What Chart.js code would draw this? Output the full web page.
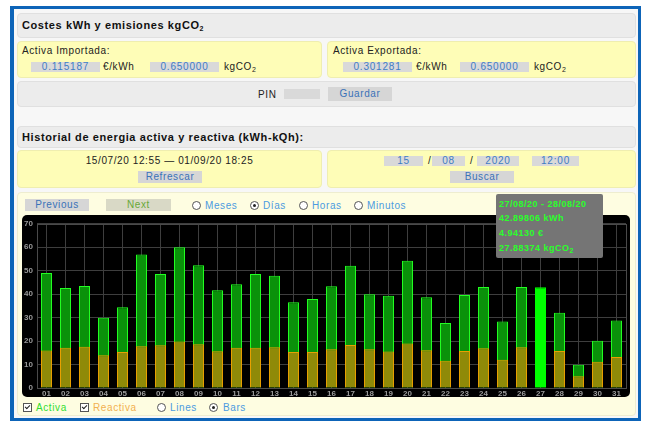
<!DOCTYPE html>
<html>
<head>
<meta charset="utf-8">
<script src="https://cdn.jsdelivr.net/npm/chart.js@4.4.0/dist/chart.umd.min.js"></script>
<style>
  body { margin: 0; width: 645px; height: 423px; background: #fff; font-family: 'Liberation Sans', Arial, sans-serif; position: relative; overflow: hidden; }
  .abs { position: absolute; }
  #frame { left: 10px; top: 6px; width: 631px; height: 415px; box-sizing: border-box; border: 3px solid #0d64b8; border-left-width: 4px; background: #f7f7f7; }
  .gray { background: #ececec; border: 1px solid #e0e0e0; border-radius: 4px; box-sizing: border-box; }
  .yel { background: #fefdb7; border: 1px solid #efeeb0; border-radius: 4px; box-sizing: border-box; }
  .title { font-weight: bold; font-size: 11px; letter-spacing: 0.6px; color: #111; line-height: 12px; }
  .txt { font-size: 10px; letter-spacing: 0.6px; color: #222; line-height: 11px; white-space: nowrap; }
  .box { background: #d9d9d9; color: #3f7cc4; font-size: 10px; letter-spacing: 0.8px; text-align: center; line-height: 10px; white-space: nowrap; }
  .btn { background: #d6d6d6; color: #3a72b8; font-size: 10px; letter-spacing: 0.6px; text-align: center; white-space: nowrap; }
  .blue { color: #4c9be0; font-size: 10px; letter-spacing: 0.6px; line-height: 11px; white-space: nowrap; }
  .radio { width: 7px; height: 7px; border: 1px solid #555; border-radius: 50%; background: #fff; }
  .radio.on::after { content: ''; position: absolute; left: 2px; top: 2px; width: 3px; height: 3px; border-radius: 50%; background: #222; }
  .chk { width: 7px; height: 7px; border: 1px solid #555; background: #fff; }
  .chk::after { content: ''; position: absolute; left: 1px; top: 1px; width: 4px; height: 2px; border-left: 1.5px solid #222; border-bottom: 1.5px solid #222; transform: rotate(-45deg); }
  sub { font-size: 7px; vertical-align: -2px; line-height: 0; }
  #plot { left: 22px; top: 215px; width: 608px; height: 182px; background: #000; border-radius: 5px; }
  #tip { left: 496px; top: 194px; width: 107px; height: 64px; background: #757575; border-radius: 2px; }
  #tip div { position: absolute; left: 3px; color: #2bff2b; font-weight: bold; font-size: 9px; letter-spacing: 0.5px; line-height: 10px; white-space: nowrap; }
</style>
</head>
<body>
<div id="frame" class="abs"></div>

<!-- Costes -->
<div class="abs gray" style="left:17px;top:13px;width:619px;height:25px;"></div>
<div class="abs title" style="left:22px;top:19px;">Costes kWh y emisiones kgCO<sub>2</sub></div>

<div class="abs yel" style="left:17px;top:41px;width:305px;height:37px;"></div>
<div class="abs txt" style="left:22px;top:45px;">Activa Importada:</div>
<div class="abs box" style="left:31px;top:62px;width:69px;height:10px;">0.115187</div>
<div class="abs txt" style="left:103px;top:61px;">€/kWh</div>
<div class="abs box" style="left:150px;top:62px;width:69px;height:10px;">0.650000</div>
<div class="abs txt" style="left:224px;top:61px;">kgCO<sub>2</sub></div>

<div class="abs yel" style="left:327px;top:41px;width:309px;height:37px;"></div>
<div class="abs txt" style="left:333px;top:45px;">Activa Exportada:</div>
<div class="abs box" style="left:343px;top:62px;width:69px;height:10px;">0.301281</div>
<div class="abs txt" style="left:416px;top:61px;">€/kWh</div>
<div class="abs box" style="left:460px;top:62px;width:69px;height:10px;">0.650000</div>
<div class="abs txt" style="left:534px;top:61px;">kgCO<sub>2</sub></div>

<div class="abs gray" style="left:17px;top:81px;width:619px;height:26px;"></div>
<div class="abs txt" style="left:258px;top:89px;">PIN</div>
<div class="abs" style="left:284px;top:89px;width:36px;height:10px;background:#d9d9d9;"></div>
<div class="abs btn" style="left:328px;top:87px;width:64px;height:14px;line-height:14px;">Guardar</div>

<!-- Historial -->
<div class="abs gray" style="left:17px;top:126px;width:619px;height:22px;"></div>
<div class="abs title" style="left:22px;top:131px;">Historial de energia activa y reactiva (kWh-kQh):</div>

<div class="abs yel" style="left:17px;top:150px;width:305px;height:38px;"></div>
<div class="abs txt" style="left:17px;top:155px;width:305px;text-align:center;">15/07/20 12:55 — 01/09/20 18:25</div>
<div class="abs btn" style="left:138px;top:171px;width:64px;height:12px;line-height:12px;">Refrescar</div>

<div class="abs yel" style="left:327px;top:150px;width:309px;height:38px;"></div>
<div class="abs box" style="left:384px;top:156px;width:39px;height:10px;">15</div>
<div class="abs txt" style="left:428px;top:155px;">/</div>
<div class="abs box" style="left:432px;top:156px;width:33px;height:10px;">08</div>
<div class="abs txt" style="left:470px;top:155px;">/</div>
<div class="abs box" style="left:477px;top:156px;width:42px;height:10px;">2020</div>
<div class="abs box" style="left:532px;top:156px;width:47px;height:10px;">12:00</div>
<div class="abs btn" style="left:450px;top:171px;width:64px;height:12px;line-height:12px;">Buscar</div>

<!-- chart panel -->
<div class="abs" style="left:17px;top:192px;width:619px;height:224px;background:#fefde1;border:1px solid #eeedd0;border-radius:4px;box-sizing:border-box;"></div>
<div class="abs btn" style="left:25px;top:199px;width:64px;height:12px;line-height:12px;">Previous</div>
<div class="abs btn" style="left:106px;top:199px;width:65px;height:12px;line-height:12px;background:#d9d9c6;color:#6aa83a;">Next</div>
<div class="abs radio" style="left:192px;top:201px;"></div>
<div class="abs blue" style="left:205px;top:200px;">Meses</div>
<div class="abs radio on" style="left:250px;top:201px;"></div>
<div class="abs blue" style="left:263px;top:200px;">Días</div>
<div class="abs radio" style="left:299px;top:201px;"></div>
<div class="abs blue" style="left:312px;top:200px;">Horas</div>
<div class="abs radio" style="left:354px;top:201px;"></div>
<div class="abs blue" style="left:367px;top:200px;">Minutos</div>

<div id="plot" class="abs"><canvas id="chart" width="608" height="182"></canvas></div>

<div id="tip" class="abs">
  <div style="top:5px;">27/08/20 - 28/08/20</div>
  <div style="top:19px;">42.89806 kWh</div>
  <div style="top:34px;">4.94130 €</div>
  <div style="top:49px;">27.88374 kgCO<sub>2</sub></div>
</div>

<div class="abs chk" style="left:23px;top:403px;"></div>
<div class="abs blue" style="left:36px;top:402px;color:#33dd33;">Activa</div>
<div class="abs chk" style="left:80px;top:403px;"></div>
<div class="abs blue" style="left:93px;top:402px;color:#f2b050;">Reactiva</div>
<div class="abs radio" style="left:157px;top:403px;"></div>
<div class="abs blue" style="left:170px;top:402px;">Lines</div>
<div class="abs radio on" style="left:209px;top:403px;"></div>
<div class="abs blue" style="left:223px;top:402px;">Bars</div>

<script>
const dias = ['01','02','03','04','05','06','07','08','09','10','11','12','13','14','15','16',
  '17','18','19','20','21','22','23','24','25','26','27','28','29','30','31'];
const activa = [49.0, 42.6, 43.5, 30.0, 34.4, 56.9, 48.6, 60.0, 52.3, 41.7, 44.2, 48.6, 47.9, 36.6, 37.9, 43.4,
  52.1, 40.0, 39.3, 54.3, 38.7, 27.7, 39.7, 43.1, 28.4, 43.1, 42.9, 32.1, 9.9, 20.1, 28.8];
const reactiva = [16.0, 17.2, 17.6, 14.0, 15.3, 17.8, 18.2, 19.8, 18.6, 15.7, 17.2, 17.2, 17.4, 15.3, 15.3, 16.5,
  18.3, 16.5, 15.6, 19.0, 16.1, 11.6, 15.8, 16.9, 12.0, 17.4, 16.0, 15.8, 5.0, 11.2, 13.2];
const yMax = 70;
const yStep = 10;
const seleccionado = 26; // dia 27, resaltado

const highlight = '#00ff00';

// marco alrededor del area del grafico
const plotFrame = {
  id: 'plotFrame',
  afterDraw(chart) {
    const { ctx, chartArea: a } = chart;
    ctx.save();
    ctx.strokeStyle = '#4a4a4a';
    ctx.lineWidth = 1;
    ctx.strokeRect(Math.round(a.left) + 0.5, Math.round(a.top) + 0.5, Math.round(a.right - a.left), Math.round(a.bottom - a.top));
    ctx.restore();
  }
};

const tickFont = { family: 'Liberation Sans', size: 8, weight: 'bold' };

new Chart(document.getElementById('chart'), {
  type: 'bar',
  data: {
    labels: dias,
    datasets: [
      {
        label: 'Activa',
        data: activa,
        order: 2,
        grouped: false,
        backgroundColor: ctx => ctx.dataIndex === seleccionado ? highlight : '#0a910a',
        borderColor: ctx => ctx.dataIndex === seleccionado ? highlight : '#22ff22',
        borderWidth: 1,
        barPercentage: 0.58,
        categoryPercentage: 1
      },
      {
        label: 'Reactiva',
        data: reactiva,
        order: 1,
        grouped: false,
        backgroundColor: ctx => ctx.dataIndex === seleccionado ? highlight : '#8f8a08',
        borderColor: ctx => ctx.dataIndex === seleccionado ? highlight : '#e8a000',
        borderWidth: 1,
        barPercentage: 0.58,
        categoryPercentage: 1
      }
    ]
  },
  options: {
    responsive: false,
    animation: false,
    devicePixelRatio: 1,
    layout: { padding: { top: 4, right: 4, left: 0, bottom: 0 } },
    plugins: { legend: { display: false }, tooltip: { enabled: false } },
    scales: {
      x: {
        offset: true,
        grid: { offset: false, color: '#3e3e3e', drawTicks: false },
        border: { display: false },
        ticks: { color: '#9a9a9a', font: tickFont, padding: 1, maxRotation: 0, autoSkip: false },
        afterFit: s => { s.height = 9; }
      },
      y: {
        min: 0,
        max: yMax,
        grid: { color: '#3e3e3e', drawTicks: false },
        border: { display: false },
        ticks: { stepSize: yStep, color: '#9a9a9a', font: tickFont, padding: 4 },
        afterFit: s => { s.width = 15; }
      }
    }
  },
  plugins: [plotFrame]
});
</script>
</body>
</html>
